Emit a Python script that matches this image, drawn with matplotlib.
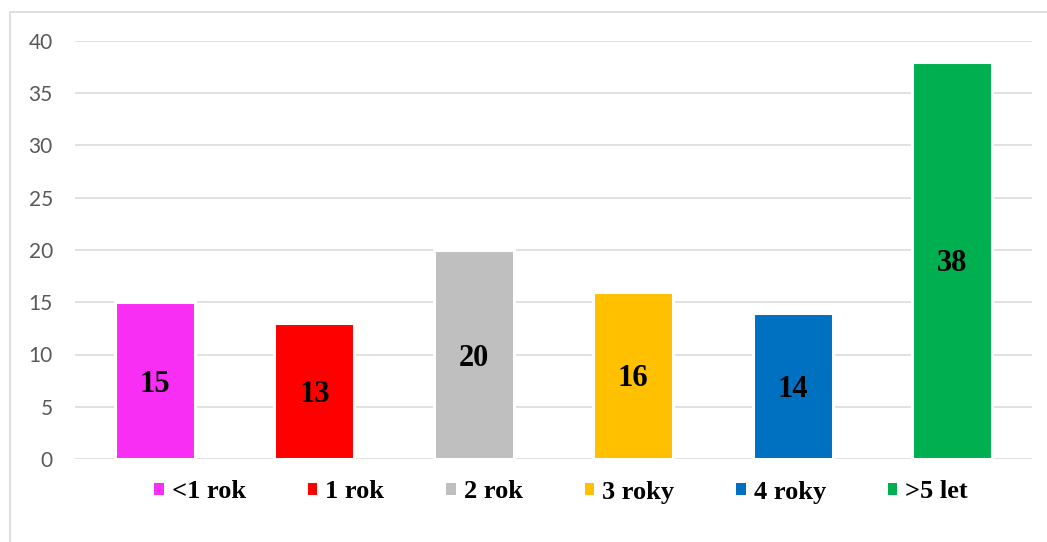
import matplotlib
matplotlib.use("Agg")
import matplotlib.pyplot as plt
from matplotlib.patches import Patch, Rectangle

categories = ["<1 rok", "1 rok", "2 rok", "3 roky", "4 roky", ">5 let"]
values = [15, 13, 20, 16, 14, 38]
colors = ["#F82EF5", "#FF0000", "#BFBFBF", "#FFC000", "#0070C0", "#00B050"]
yticks = [0, 5, 10, 15, 20, 25, 30, 35, 40]

W, H = 1047, 542
fig = plt.figure(figsize=(W / 100, H / 100), dpi=100)
ax = fig.add_axes([75 / W, 1 - 459 / H, (1032 - 75) / W, (459 - 41) / H])

x = list(range(len(categories)))
bars = ax.bar(x, values, width=0.5, color=colors, edgecolor="white", linewidth=2.2, zorder=3)

for xi, v in zip(x, values):
    ax.text(xi, v / 2, str(v), ha="center", va="center_baseline", fontsize=22, fontweight="bold",
            family="Liberation Serif", color="black", zorder=4)

ax.set_xlim(-0.5, len(categories) - 0.5)
ax.set_ylim(0, 40)
ax.set_yticks(yticks)
ax.set_xticks([])
ax.yaxis.grid(True, color="#D9D9D9", linewidth=1.1, zorder=0)
ax.set_axisbelow(True)
for s in ax.spines.values():
    s.set_visible(False)
ax.tick_params(axis="y", length=0, pad=16, labelsize=15, labelcolor="#595959")
for lab in ax.get_yticklabels():
    lab.set_family("Lato")

handles = [Patch(facecolor=c, edgecolor="none") for c in colors]
leg = fig.legend(handles, categories, loc="center", bbox_to_anchor=(561 / W, 1 - 492 / H),
                 ncol=6, frameon=False, handlelength=0.36, handleheight=0.36,
                 handletextpad=0.3, columnspacing=2.35,
                 prop={"family": "Liberation Serif", "weight": "bold", "size": 19})

fig.add_artist(Rectangle((10 / W, -0.02), 1.0, 1 - 12 / H + 0.02, transform=fig.transFigure,
                         fill=False, edgecolor="#D9D9D9", linewidth=1.2))

fig.savefig("out.png", dpi=100)
